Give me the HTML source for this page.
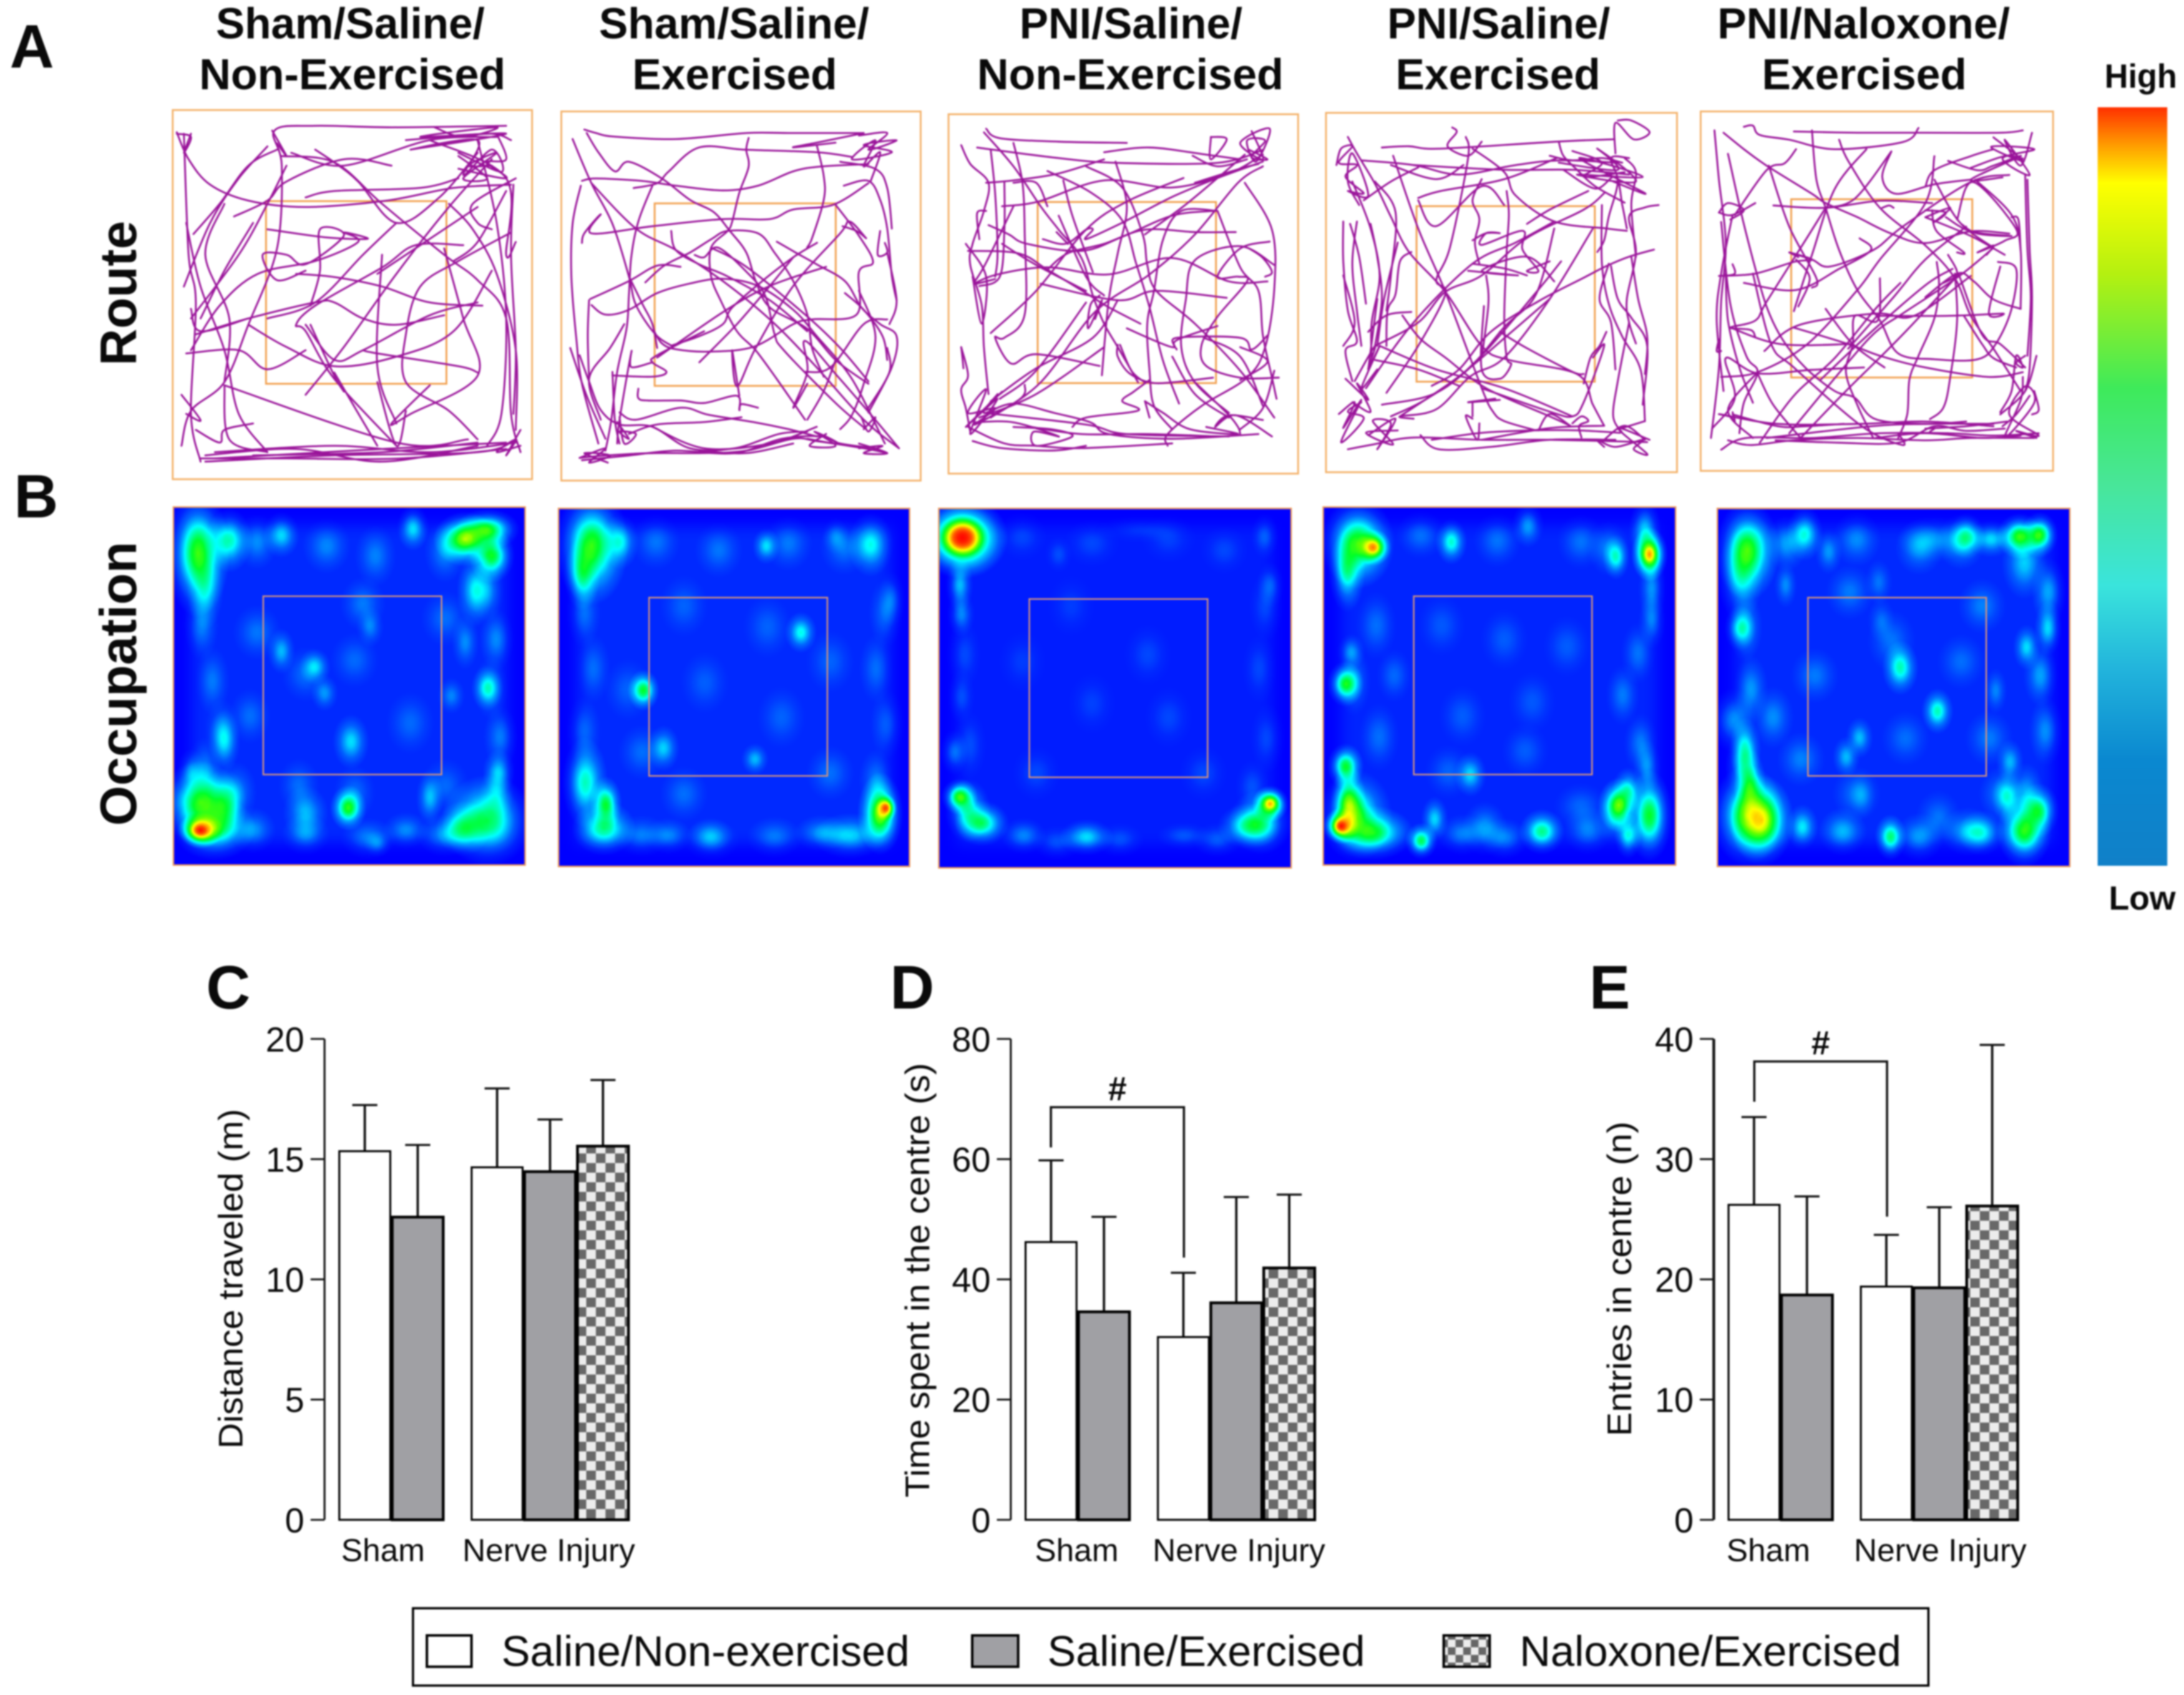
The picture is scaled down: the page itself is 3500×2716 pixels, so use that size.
<!DOCTYPE html>
<html lang="en">
<head>
<meta charset="utf-8">
<title>Open field route, occupation and behaviour charts</title>
<style>
html,body{margin:0;padding:0;background:#fff;width:3500px;height:2716px;overflow:hidden}
svg{display:block;filter:blur(1.2px)}
text{font-family:"Liberation Sans",Arial,sans-serif;fill:#0a0a0a}
.head{font-weight:700;font-size:31px}
.letter{font-weight:700;font-size:44px}
.row{font-weight:700;font-size:37px}
.scale{font-weight:700;font-size:24px}
.leg{font-size:30.7px}
</style>
</head>
<body>
<svg id="root" xmlns="http://www.w3.org/2000/svg" width="3500" height="2716" viewBox="0 0 1568 1216.77">
<defs>
<radialGradient id="blob">
<stop offset="0" stop-color="#000" stop-opacity="1"/>
<stop offset=".2" stop-color="#000" stop-opacity=".88"/>
<stop offset=".4" stop-color="#000" stop-opacity=".607"/>
<stop offset=".6" stop-color="#000" stop-opacity=".325"/>
<stop offset=".8" stop-color="#000" stop-opacity=".135"/>
<stop offset="1" stop-color="#000" stop-opacity="0"/>
</radialGradient>
<filter id="soft" x="-10%" y="-10%" width="120%" height="120%"><feGaussianBlur stdDeviation="5"/></filter>
<pattern id="checker" width="13.8" height="13.8" patternUnits="userSpaceOnUse">
<rect width="13.8" height="13.8" fill="#ececec"/>
<rect width="6.9" height="6.9" fill="#686868"/>
<rect x="6.9" y="6.9" width="6.9" height="6.9" fill="#686868"/>
</pattern>
<pattern id="checker-small" width="11" height="11" patternUnits="userSpaceOnUse">
<rect width="11" height="11" fill="#ececec"/>
<rect width="5.5" height="5.5" fill="#666"/>
<rect x="5.5" y="5.5" width="5.5" height="5.5" fill="#666"/>
</pattern>
<linearGradient id="scale-gradient" x1="0" y1="0" x2="0" y2="1">
<stop offset="0" stop-color="#ff3000"/>
<stop offset=".05" stop-color="#ff9c00"/>
<stop offset=".1" stop-color="#ffff00"/>
<stop offset=".22" stop-color="#b4f010"/>
<stop offset=".37" stop-color="#3eea5a"/>
<stop offset=".5" stop-color="#48e69a"/>
<stop offset=".63" stop-color="#3ae4dc"/>
<stop offset=".74" stop-color="#22b4dc"/>
<stop offset=".86" stop-color="#0a88d0"/>
<stop offset="1" stop-color="#1080c8"/>
</linearGradient>
</defs>
<rect width="1568" height="1216.77" fill="#fff"/>

<text class="letter" x="7" y="48.5">A</text>
<text class="letter" x="10" y="371.5">B</text>
<text class="letter" x="148" y="724">C</text>
<text class="letter" x="639" y="724">D</text>
<text class="letter" x="1141" y="724">E</text>

<text class="head" x="155" y="27.5" textLength="193" lengthAdjust="spacingAndGlyphs">Sham/Saline/</text>
<text class="head" x="143" y="64" textLength="220" lengthAdjust="spacingAndGlyphs">Non-Exercised</text>
<text class="head" x="430" y="27.5" textLength="194" lengthAdjust="spacingAndGlyphs">Sham/Saline/</text>
<text class="head" x="454" y="64" textLength="147" lengthAdjust="spacingAndGlyphs">Exercised</text>
<text class="head" x="732" y="27.5" textLength="160" lengthAdjust="spacingAndGlyphs">PNI/Saline/</text>
<text class="head" x="701.5" y="64" textLength="220" lengthAdjust="spacingAndGlyphs">Non-Exercised</text>
<text class="head" x="996" y="27.5" textLength="160" lengthAdjust="spacingAndGlyphs">PNI/Saline/</text>
<text class="head" x="1002" y="64" textLength="147" lengthAdjust="spacingAndGlyphs">Exercised</text>
<text class="head" x="1233" y="27.5" textLength="210" lengthAdjust="spacingAndGlyphs">PNI/Naloxone/</text>
<text class="head" x="1265" y="64" textLength="147" lengthAdjust="spacingAndGlyphs">Exercised</text>

<text class="row" transform="translate(97.7,262.5) rotate(-90)" textLength="104" lengthAdjust="spacingAndGlyphs">Route</text>
<text class="row" transform="translate(97.7,592.8) rotate(-90)" textLength="204" lengthAdjust="spacingAndGlyphs">Occupation</text>

<g id="routes"></g>
<g id="heatmaps"></g>

<rect x="1506" y="77" width="50" height="544.5" fill="url(#scale-gradient)"/>
<text class="scale" x="1511" y="63" textLength="52" lengthAdjust="spacingAndGlyphs">High</text>
<text class="scale" x="1514" y="653" textLength="48" lengthAdjust="spacingAndGlyphs">Low</text>

<g id="charts"></g>

<g>
<rect x="296.5" y="1154.5" width="1088" height="55.5" fill="#fff" stroke="#000" stroke-width="1.6"/>
<rect x="306.5" y="1174" width="32" height="22.5" fill="#fff" stroke="#000" stroke-width="1.8"/>
<text class="leg" x="360" y="1196" textLength="293" lengthAdjust="spacingAndGlyphs">Saline/Non-exercised</text>
<rect x="698" y="1174" width="33" height="22.5" fill="#a0a0a4" stroke="#000" stroke-width="1.8"/>
<text class="leg" x="752" y="1196" textLength="228" lengthAdjust="spacingAndGlyphs">Saline/Exercised</text>
<rect x="1036.5" y="1174" width="33" height="22.5" fill="url(#checker-small)" stroke="#000" stroke-width="1.8"/>
<text class="leg" x="1091" y="1196" textLength="274" lengthAdjust="spacingAndGlyphs">Naloxone/Exercised</text>
</g>
</svg>

<script>
/* ---------- bar chart data ---------- */
const groupLabels = ["Sham", "Nerve Injury"];
const chartCTicks = [0, 5, 10, 15, 20];
const chartCMeans = [15.33, 12.59, 14.66, 14.48, 15.54];
const chartCErrorTops = [17.25, 15.59, 17.94, 16.65, 18.29];
const chartDTicks = [0, 20, 40, 60, 80];
const chartDMeans = [46.2, 34.6, 30.4, 36.1, 41.9];
const chartDErrorTops = [59.8, 50.4, 41.1, 53.7, 54.1];
const chartETicks = [0, 10, 20, 30, 40];
const chartEMeans = [26.2, 18.7, 19.4, 19.3, 26.1];
const chartEErrorTops = [33.5, 26.9, 23.7, 26.0, 39.5];
const barTreatments = ["white", "gray", "white", "gray", "checker"];

/* ---------- route traces (zoom-crop units 0..1568) ---------- */
const routeSham1 = [
[370,415,395,500,440,580,520,630,640,650,810,630,950,590,1070,580],[385,420,395,800,410,950,400,1300,420,1450],[380,1400,400,1290,470,1200,520,1020,580,780,590,520,575,410,660,395,820,400,1060,395],[470,1210,480,1380,560,1420],[405,735,460,640,520,520,580,470],[610,480,720,520,900,440,1040,430],[590,490,700,510,800,640,930,800,1000,880,1060,1000,1070,1300,1090,1420],[660,470,700,510,750,570,830,700,920,620,1000,480],[490,680,560,630,600,570,720,500,820,520],[560,720,680,745,770,750,720,730,750,760,660,820,540,860,460,960,400,1100],[970,770,870,770,800,840,660,960,620,1020,640,1040,700,1190,830,1400],[800,800,790,1150,830,1330],[640,1020,700,1130,760,1100,900,990,1000,950],[620,860,700,870,800,900,900,950,1010,960],[410,1050,520,1000,660,950,700,950,760,1000,830,1020,930,990],[520,1020,600,1090,700,1150,830,1120,950,1040,1030,850],[390,1110,500,1100,560,1160,640,1100],[470,1210,830,1390,980,1380],[1070,730,960,820,880,900,850,1050,850,1200,940,1290,1000,1380],[940,640,990,720,1040,860,1080,1100,1080,1350],[1080,560,990,640,1000,700,1030,720],[930,780,970,1000,1000,1180,860,1300,820,1330,900,1210],[720,1230,700,1180,650,1020],[760,1100,790,1110,960,1150,1000,1170],[640,850,580,880,550,800,600,800,640,830,720,740,670,720,670,850,650,960],[410,1350,460,1390,470,1350,530,1330],[430,1450,700,1430,1000,1420,1080,1380],[420,1440,600,1440,840,1440,1060,1410],[450,1440,800,1410,1060,1390],[530,1430,800,1420,1000,1390],[1090,1350,1060,1430,1080,1380,1040,1420,1090,1400],[910,400,970,430,1040,400,880,430,1060,420,860,470,1000,440,970,550,1030,470,1050,540,960,480],[1040,420,1060,500,1020,510,1060,560,960,530],[520,1000,420,1040,400,970],[570,410,600,490,580,450],[380,1240,420,1320,390,1300],[900,440,1060,560,1060,800,1080,760],[1030,500,940,650,830,860,720,1090,640,1240],[1000,650,870,780,790,860],[850,1290,830,1400,790,1200],[700,1170,790,1400],
[1075,580,1070,800,1080,1100,1075,1300],[1000,440,1040,700,1060,1000,1050,1300,1020,1400],[390,700,420,900,470,1100,500,1300,560,1420],[385,900,440,700,500,560,560,460],[400,1000,500,800,560,640,600,520],[420,1000,470,850,530,700],[470,640,430,800,480,1000,470,1200],[450,1420,700,1400,900,1420,1080,1390],[430,1430,620,1410,800,1450,1000,1400],[850,440,930,430,1030,420,1070,440],[960,490,1020,560,970,560,1040,480,980,520,1030,520],[370,420,400,430,385,480,400,420],[560,1000,660,950,760,800,830,700],[640,620,700,600,880,590,960,560],[1060,600,1000,760,950,820]
];
const routeSham2 = [
[60,125,140,310,230,480,300,700,330,820,410,940,480,990],[110,85,160,100,240,115,500,125,800,100,980,100,1300,100],[120,100,170,180,240,260,300,220,440,290,560,380,660,430,730,510,800,600,840,720,900,830,1060,920,1180,1050,1320,1150],[100,300,160,290,350,300,500,320,700,340,850,320,1000,260,1120,240,1320,230],[320,330,420,310,470,260,600,160,800,170,1100,180,1250,200],[400,320,340,470,310,620,300,780,290,920,250,1100,225,1300,200,1430],[100,560,110,520,180,440,140,520,400,490,700,460,900,460,1000,420,1170,400,1320,310],[140,310,330,500,500,590,700,720,900,880,1080,1060,1300,1300,1450,1420],[95,320,60,480,55,700,75,950,100,1150,170,1400],[370,725,450,655,560,600,650,545,720,510,850,520,920,600,1000,720,1060,860,1080,1000,1130,1120],[135,795,300,720,420,655,520,660],[140,820,200,860,300,840,420,770,560,730,700,710,850,740,1000,840,1100,950,1250,1130,1390,1400],[480,510,500,590,600,650,720,700,900,800,1060,930],[580,610,620,620,680,580,800,680,880,780,920,940,960,1010,1180,1230,1310,1340],[930,555,1010,600,1100,650,1220,720,1290,830,1370,900,1440,950,1420,1080,1320,1270],[1440,800,1420,700,1400,500,1370,380,1320,300,1215,320],[1220,770,1300,840,1380,950,1400,1050],[405,925,440,980,500,1005,640,1015,830,995,1000,900,1080,880,1270,860,1280,680,1340,640,1280,530,1180,400],[1100,150,1130,280,1130,380,1080,540,1060,580,1100,560,1000,620,880,710,740,830,700,900,600,950,480,990],[810,120,800,170,810,240,770,350,740,470,720,510,650,580,650,700,690,800,760,930,840,1010,930,1130,1050,1300],[400,1060,310,1080,310,1020,260,1300,250,1400],[230,1115,400,1120,460,1100,400,1060,420,1030,620,930],[420,1040,700,850,900,740,1140,660],[340,1170,340,1210,380,1220,520,1220,620,1230,760,1200,770,1260,780,1235,850,1250],[770,1200,740,1010,760,1160,840,1000,1000,740,1200,520,1240,470,1310,540],[90,1030,130,1140,180,1260,260,1320,400,1330,560,1420,750,1420,940,1360,1060,1350],[90,1460,200,1450,400,1440,600,1440,800,1430,1000,1380,1100,1390,1300,1420,1400,1440],[100,1470,300,1450,500,1430,750,1440,950,1380,1120,1370,1200,1400,1350,1420],[260,1270,330,1300,520,1250,640,1280,830,1310,980,1340,1100,1370],[300,1360,420,1320,620,1310,780,1290],[1450,1420,1340,1290,1190,1120,1050,970,1060,1100,1000,1250,1060,1150],[130,800,125,950,130,1130],[1280,110,1400,100,1320,170,1440,130,1300,150,1420,180,1250,210,1350,130,1300,240,1370,180,1330,300],[90,1460,200,1420,130,1480,220,1450,110,1440,210,1480],[250,1310,300,1380,260,1350,330,1360,280,1400,260,1290],[1060,1380,1190,1400,1090,1350,1180,1410,1070,1410,1140,1360],[1280,1420,1380,1410,1300,1440,1400,1440,1280,1400],[1300,1340,1350,1290,1320,1350,1290,1290],[1210,490,1270,510,1310,540],[1370,510,1360,610,1400,600,1390,560],
[1300,100,1100,140,1000,160,1180,140],[1200,220,1350,250,1400,330,1420,500],[1400,600,1440,800,1410,900],[50,1000,120,1200,200,1380],[180,1300,130,1130,220,1000,280,900],[230,1100,240,1300,260,1400],[1320,1250,1410,1100,1400,1000],[1180,1050,1130,1180,1060,1300],[600,1430,800,1440,1000,1400],[400,1330,620,1420,900,1400,1100,1330],[300,700,360,820,400,900,420,1000],[650,580,800,660,1050,860,1200,1000,1320,1140],[1000,620,900,740,760,900,600,1060],[1280,760,1350,950,1300,1150,1250,1280,1200,1340],[1050,1100,1160,1080,1300,900,1400,880]
];
const routePni3 = [
[180,70,240,110,500,125,800,130],[140,150,500,195,750,215,1200,215,1400,160],[70,140,110,220,190,300,170,420,120,560,110,650,160,820,170,1000,190,1200],[170,85,300,230,420,400,500,500,600,620,650,780,700,900,760,1000,850,1150],[300,130,340,300,350,520,350,860,260,960,220,960,290,1070,400,1030,680,1080],[250,400,410,380,700,290,1000,320,1250,260,1400,180],[1090,185,1200,230,1330,200],[450,250,640,340,780,460,840,640,900,830,960,1060,1030,1240],[620,230,780,320,870,520,890,650,930,760,1100,900,1300,1100,1450,1300],[750,210,800,400,760,600,720,800,690,1120],[100,590,320,600,450,670,620,770,720,830,860,900],[420,730,760,800,930,760,1240,790],[220,710,130,730,230,690,450,660,720,690,1000,620,1250,720,1420,720],[450,670,540,600,700,560,880,500,1100,510,1280,510],[430,540,530,560,620,500,650,500,620,540,780,470,1000,360,1200,280,1400,210],[200,940,400,760,620,500,800,380,1050,280],[190,480,280,520,360,560,600,590,780,530,1000,440,1180,420],[1200,420,1040,420,960,540,920,760,890,900,900,1100,920,1250,1000,1350],[1450,650,1300,570,1100,630,1060,800,1040,1000,1100,1150,1250,1280],[1430,550,1300,580,1200,700,1290,700,1330,720,1200,870,1130,990,1150,1080,1300,1130,1470,1130],[1200,420,1300,660,1380,760,1400,950,1440,1130,1460,1220],[1320,300,1440,500,1450,750,1410,1000,1330,1130,1130,1250,980,1370,980,1420],[1400,230,1290,300,1100,520,900,690,660,850,420,1150,200,1300],[680,780,640,820,630,920,690,800,660,880],[620,810,400,1100,240,1220],[900,1140,830,1190,780,1230,850,1270,620,1300,560,1340],[880,1230,900,1300],[760,990,760,1040,810,1110,900,1150,1000,1150,1180,1130],[770,990,820,1100,880,1150],[800,920,1000,1000,1020,960,1300,960,1350,1010,1420,950],[1200,910,1020,970,1020,1010],[70,1000,100,1120,70,1180,90,1260,110,1360],[230,1200,170,1280,300,1240,480,1280,640,1320,720,1370,1000,1390,1380,1370],[100,1340,260,1410,400,1420,600,1430,1000,1410],[130,1320,300,1320,500,1380,390,1360,400,1420,560,1380,470,1350,300,1340],[170,1280,620,1330,800,1370,1250,1380],[350,1160,330,1220,130,1330,220,1260,100,1280,180,1180,110,1370,230,1220,90,1340,250,1190],[1440,1380,1280,1290,1190,1340,1250,1290,1400,1310],[1150,1340,1290,1370,1080,1350,960,1280,880,1230],[1350,80,1400,200,1300,130,1430,70,1370,210,1330,120,1410,120,1350,190,1420,200,1340,160],[1170,110,1170,200,1240,115,1170,105],[150,540,140,430,180,420],[70,1000,80,1090],[490,510,540,560,520,540],[1090,1140,1240,1280,1290,1340,1300,1370],[1300,1140,1420,1060,1300,1000],
[200,160,220,350,230,600,220,700],[260,300,260,500,240,700,150,740],[300,400,180,640,130,720],[1300,200,1150,180,900,150,700,170],[1100,300,1300,240,1380,220],[700,200,500,260,300,290,180,300],[450,400,400,300,300,300],[520,290,560,440,650,680],[1340,580,1400,620,1440,680,1410,700],[1450,1100,1400,1260,1300,1350],[150,1300,400,1200,700,1000],[200,1230,400,1090,650,960,760,800],[380,1340,600,1370,900,1370,1200,1380],[120,1400,250,1430,480,1440,620,1420],[1250,1300,1100,1200,1000,1040],[500,440,620,700,700,780],[250,560,400,650,620,760],[1320,180,1200,280,1050,400,880,520],[1140,960,1300,1040,1400,1250],[90,560,180,700,160,900,120,700]
];
const routePni4 = [
[110,110,150,180,230,310,300,450,380,600,540,770,700,1000,820,1060,1120,1120,1190,1250,1240,1340],[260,155,380,150,520,160,1030,130,1280,120],[170,210,400,230,600,270,850,230,1050,210,1300,220],[400,230,800,250,1100,250,1350,270],[310,190,420,500,540,770,700,1180,750,1280,800,1320,940,1360],[630,110,640,200,560,580,500,720,540,780,420,1000,280,1200],[570,70,590,90,550,150,640,190,700,130],[660,160,800,260,850,360,1020,470,1250,500,1340,510],[1040,130,1060,190,1120,250,1200,320,1330,390],[130,300,210,500,250,700,215,900,215,1050],[90,470,90,640,110,850,150,980,100,1020,130,1150],[150,470,130,650,150,850,170,1000],[210,480,240,620,260,800,230,1000],[390,600,340,640,320,780,285,850,280,1000],[200,940,280,870,390,855],[350,870,430,970,540,1050,720,1180,1000,1300,1090,1340],[230,1000,420,900,540,770,700,700,900,540,1150,420,1240,350],[190,1180,400,900,660,650,850,560,1020,470],[700,290,660,380,690,460,670,560,690,650],[810,340,820,440,810,600,800,880,810,1050,830,1080,780,1140,700,1100,710,830],[1020,725,900,620,700,680,860,700,640,680],[660,550,720,520,780,520,720,520,700,570,880,510,880,590,950,680,900,680,1000,640],[420,380,500,490,700,320,800,400],[420,370,520,340,800,290,1030,200],[780,940,900,1010,1100,1110,1150,1120],[1020,500,940,780,800,920,640,1100,450,1230,300,1300],[700,1180,1000,1280,1100,1300,1150,1240,1240,1000,1190,1050],[1150,1160,1180,1050,1220,1000,1250,940],[1460,590,1350,620,1250,660,1150,710,950,810,740,940,600,1100,480,1170],[1480,400,1420,410,1350,450,1380,600,1340,800,1350,900,1380,990],[1230,400,1230,650,1260,820,1320,960,1400,1100,1420,1320],[1270,660,1300,800,1360,880,1430,1000,1410,1250],[1350,900,1300,1150,1280,1300,1320,1370],[1210,600,1240,550,1260,450,1300,300,1270,200,1350,200],[1300,40,1360,40,1440,90,1370,120,1290,50,1290,180],[1040,220,1300,250,1210,160,1380,300,1120,270,1410,280,1130,200,1420,350,1280,300],[60,230,80,160,130,150,70,220,150,230,100,280,180,350,110,340,200,360,130,180,110,300,160,400],[140,1150,230,1000,200,1100,250,1000,170,1180,240,1100],[100,1140,200,1230,150,1160,210,1280,130,1240],[70,1290,140,1240,90,1350,170,1230,80,1410,180,1310,110,1280,170,1240],[200,1380,320,1310,240,1440,300,1330,220,1320,310,1420,190,1370,330,1360],[110,1440,220,1420,400,1390,700,1400,1000,1400,1430,1410],[430,1380,510,1440,740,1430,1000,1400,1290,1400],[480,1400,700,1370,920,1360,1130,1360,1310,1370],[1440,1400,1300,1350,1430,1460,1370,1440,1410,1400,1290,1430,1210,1400,1240,1430],[690,1330,680,1400,630,1300,660,1310],[780,1230,640,1240,760,1225],[1100,1330,1140,1300,1170,1320,1130,1340,1140,1390],[1320,1350,1420,1320],[1090,1340,1000,1290,950,1360],[660,1240,660,1300],[400,1310,340,1300,500,1270,650,1130,800,1050,1000,800,1190,500],
[1000,190,1100,210,1230,200,1320,220],[1100,170,1230,220,1150,280,1330,260],[300,230,500,290,620,230],[90,700,140,900,90,1000],[240,800,220,950,200,1100],[330,560,270,800,240,1000],[120,480,160,620,190,820],[250,1000,500,1100,800,1180,1100,1300],[230,1060,420,1100,600,1170],[260,1250,500,1200,700,1040,950,760,1050,640],[340,1300,600,1130,820,950,1000,800],[1240,1400,1330,1340,1420,1400],[700,1400,1000,1350,1240,1340],[1360,620,1390,800,1430,960,1420,1120],[1290,1100,1270,900,1220,800,1260,650],[900,480,1000,420,1170,340],[1060,250,1200,330,1290,280,1320,400,1340,500],[660,650,800,670,900,700],[720,700,730,820,700,1050],[230,300,320,430,300,700,280,850],[180,380,300,300,420,240],[1330,200,1380,260,1360,400,1380,620]
];
const routePni5 = [
[200,75,240,70,270,110,400,130,600,170,900,140,970,80],[420,95,700,100,1000,100,1330,100,1430,90],[110,100,200,170,300,240,500,360,560,400,700,460,850,530,1000,570,1200,520,1370,530],[70,90,90,300,120,570,100,820,90,1100,55,1400],[130,190,190,450,240,640,300,840,370,980,470,1100,600,1200,690,1230,780,1320,1000,1340,1180,1330],[500,90,520,300,560,420,620,600,700,770,800,900,880,1040,1040,1065,1230,1065,1310,1000,1380,850,1400,680,1320,650],[620,130,660,220,800,420,1000,580,1130,720,1200,880,1300,1020,1420,1200],[850,180,810,290,870,360,1040,320,1200,300],[430,170,380,230,300,260,160,450],[250,400,150,450,90,440],[330,410,560,420,800,390,1030,400],[560,420,470,560,300,820,250,900,140,930,230,940,250,970],[1040,200,1000,400,800,640,700,770,480,1000,260,1120,100,1140],[850,180,690,380,560,420],[740,170,600,340,500,620,420,860],[1370,280,1200,310,900,500,770,600,580,670,500,640,400,610,500,640,420,650,250,700,90,710],[710,550,760,600,620,680,430,770,200,740],[1300,590,1150,710,900,870,780,950,640,1100,400,1380],[1200,710,950,880,780,870,440,920,290,1030],[890,740,780,850,600,1060,420,1220,270,1420],[800,720,790,900,690,880,680,1000,650,1120,700,1260,770,1400],[1050,650,1060,750,1040,890,970,1050,930,1150,920,1300,880,1400],[1130,700,1140,900,1110,1140,1080,1270,1020,1320],[1150,710,1250,960,1330,1000,1440,1100],[1330,670,1280,870,1340,870,1100,880,800,880],[420,930,660,1000,800,1050,1000,1100,1280,1140,1430,1120],[730,1100,500,1110,260,1125,120,1060,160,1230,60,1360],[260,1125,330,1260,450,1400],[240,700,320,1000,420,1100,720,1350,900,1430,880,1380],[100,480,140,830,210,1050,260,1120,200,1250,180,1380],[150,660,160,700,110,710],[140,930,360,1000,670,1000],[90,980,80,1030,100,1030],[150,1290,160,1330,140,1310,100,1300,350,1340,700,1340,1000,1330,1300,1350],[100,1450,210,1400,500,1400,800,1380,1100,1380,1300,1390,1500,1380],[130,1410,230,1430,420,1410,700,1400,1000,1410,1200,1400,1480,1400],[340,1410,620,1420,880,1420,1040,1350,1180,1370,1350,1360],[1430,1140,1420,1240,1350,1400,1480,1250,1440,1180,1370,1300,1500,1390,1400,1370,1490,1400],[1100,1380,1020,1380,1040,1360],[1300,1340,1000,1340,760,1350,300,1400],[1450,300,1460,600,1470,800,1460,1100,1440,1200],[1440,280,1450,600,1465,800,1450,1050],[1300,120,1430,220,1290,160,1480,170,1340,210,1460,280,1350,130,1420,240,1470,100],[1100,220,1230,260,1300,240,1420,200,1200,300,1340,290],[1000,460,1110,420,1040,480,1090,440,1000,430],[1090,460,1200,520,1380,540,1230,530,1160,490],[1270,620,1300,580,1230,610,1350,560,1400,510,1210,310,1140,470],[1420,600,1410,470,1380,460],[90,440,130,400,200,430,140,470],[1480,1200,1500,1280,1470,1300],[810,420,840,410,860,420],[400,610,440,630],[1100,620,1140,700,1080,740],[1140,610,1170,610,1050,520,1030,430],[1420,850,1300,810,1210,730,1140,700,1000,800],[1440,1050,1400,1080,1430,1100,1400,1050,1380,1200,1330,1290],
[120,700,130,900,180,1100,240,1250],[150,450,100,700,80,900,110,1200],[1300,170,1200,200,1040,260,1000,330],[1200,250,1350,200,1430,210],[1220,300,1380,450,1420,600,1420,850],[1040,300,1150,480,1300,590],[1000,460,1200,540,1350,620],[1170,880,1250,1000,1300,1060,1400,1100],[450,1400,650,1200,900,960,1150,700],[540,1150,760,950,1000,750,1120,680],[660,1020,860,800,1000,640,1180,500],[560,850,680,1000,820,1100],[150,1300,350,1350,470,1350,640,1340],[1000,1360,1180,1350,1360,1330],[1340,1350,1400,1300,1460,1220],[1330,1300,1440,1200,1490,1050],[780,1400,1000,1380,1250,1400,1420,1390],[310,240,400,500,520,720,500,760],[430,640,490,720,440,840],[260,1120,130,1280,240,1400]
];

/* ---------- occupation hot spots: centre x, centre y, spread x, spread y, intensity ---------- */
const heatSham1 = [
[142,397,7,14,.64],[164.5,388,5,7,.42],[202,384,4,5,.3],[296.5,379,3.5,5,.33],[334,387,7,6,.72],[350,380,7,4.5,.6],[353,399,5,6,.58],[341,424,4,8,.33],[147.4,422.7,4,9,.25],[144,576,9,9,.62],[144,596,5,4,1],[154,594.6,9,7,.5],[161,578,5,8,.38],[250,580,4,5,.6],[350,589,10,10,.52],[332.5,594.6,6,6,.4],[308.5,572.6,3,6,.25],[161,532,3.5,7,.28],[252,532.4,4,6,.3],[358,554,3.5,5,.28],[349.7,494,3.5,5,.33],[226,478.5,3.5,4,.27],[202,467.5,3,5,.25],[233,497.6,3,4,.2],[265.7,450,3,4.5,.17],[260.5,433.6,5,6,.15],[324,499.5,3,4,.17],[334,461,3,6,.18],[219.4,583.6,5,6,.25],[291.4,596,5,4,.18],[271,605.6,3,3,.15],[137,554,3,5,.2],[181.7,596,5,5,.2]
];
const heatSham2 = [
[425,391.6,8,13,.62],[418,412,4,8,.4],[445.6,389,4,6,.3],[462,495.5,3.5,4.5,.55],[435,577,3.5,6,.55],[433.6,594.6,7,6,.47],[420,561.7,5,10,.42],[476.5,537,3.5,5,.28],[575,454,3.5,4.5,.36],[550,392,3,4,.3],[632,584,5,9,.72],[636,580,2.5,3,.9],[625,391,5,7,.36],[610,600,8,5,.3],[542,545,3,3.5,.25],[510,600,5,4,.18],[480,600,5,4,.18],[590,598,6,4,.2],[640,430,3,6,.15],[600,385,3,4,.15]
];
const heatPni3 = [
[691,386,10,9,.95],[691,386,5,4.5,.9],[689,420,3,6,.3],[690,441,3,5,.22],[689,572,4,4,.62],[705,591,6,5,.5],[695,582,5,7,.38],[912,577,4,4,.85],[897,593,7,5,.4],[905,590,7,7,.4],[780,601,6,4,.33],[735,600,5,4,.2],[760,398,3,4,.1],[908,385,3,5,.15],[912,420,3,5,.15],[690,500,3,6,.12],[685,540,3,5,.2],[820,380,10,3,.08],[850,600,6,3,.12]
];
const heatPni4 = [
[975,390,8,10,.62],[986,393,4,4,.85],[967,410,4,9,.42],[1042,389,3.5,5,.4],[1097,377,3.5,5,.25],[1160.3,400,3,5,.36],[1184.3,398,4,6,.88],[1181,380.6,3.5,7,.32],[1186,422.7,3,8,.22],[1186,446,3,6,.18],[966,491,4,5,.58],[966,550,4,5,.58],[968,578,4,9,.6],[963,593,4,4,1],[985.5,598,9,6,.55],[973.5,585.4,8,10,.42],[1020.4,603.7,3.5,4,.55],[1030,588,3,5,.3],[1107,597,5,5,.48],[1066,594.6,5,6,.22],[1055.8,556,3.5,5,.3],[1162,578,4.5,6,.68],[1169,567,3.5,5,.35],[1184.3,585.4,5,10,.58],[1169,600,3,5,.38],[1182.6,550.7,3,6,.2],[970,468,3,4,.22],[1001,485,4,6,.13]
];
const heatPni5 = [
[1254.6,395,7,11,.62],[1249.4,413.5,5,10,.3],[1295.7,383,4,6,.38],[1312.9,396,3,5,.2],[1412,385,4,5,.36],[1450,385,5,5,.62],[1464.4,384,4,5,.62],[1429.4,387,5,4,.3],[1453.4,404,5,8,.28],[1388.3,387,8,5,.18],[1249.4,451,3.5,5,.32],[1470.5,451,3,6,.32],[1455,464.7,3,5,.3],[1364.3,479.4,4,6,.42],[1391,510.5,3.5,5,.42],[1335,529.6,3,4.5,.26],[1325.5,543.4,3,4.5,.25],[1348.8,418,3,5,.14],[1282,420,2.5,5,.18],[1350.6,445.5,3,5,.12],[1432.8,496,2.5,5,.17],[1443,547,3,5,.25],[1244.3,517,5,7,.24],[1252.9,538,3.5,7,.38],[1254.6,585.4,8,11,.6],[1264.9,589,7,10,.72],[1256.3,563.5,3.5,8,.45],[1294,593.7,3.5,5,.32],[1357.4,601,3.5,5,.5],[1453.4,596.4,6,8,.62],[1463.7,581.8,4.5,6,.5],[1422.5,598,5,5,.3],[1441.4,572.6,3.5,6,.28],[1391.7,587,5,6,.14],[1336.8,571,3,5,.12]
];
/* faint mottling of the walked track: offset x, offset y inside the panel, spread x, spread y, intensity */
const faintSham1 = [[60,25,6,8,.18],[110,28,7,8,.17],[145,35,6,9,.16],[195,32,6,9,.18],[225,60,5,9,.2],[232,95,5,9,.18],[228,130,5,9,.15],[235,165,5,9,.17],[232,205,5,8,.2],[20,85,5,10,.17],[28,125,5,10,.15],[35,160,5,9,.14],[22,190,5,10,.18],[45,205,6,9,.18],[95,235,7,6,.2],[140,238,8,6,.18],[195,236,8,6,.2],[90,200,6,8,.13],[130,110,7,8,.12],[170,155,7,9,.12],[95,120,7,8,.13],[60,90,7,8,.14],[195,80,7,8,.13],[55,150,6,8,.13],[195,200,7,8,.12],[130,205,6,8,.13]];
const faintSham2 = [[70,24,7,8,.14],[115,30,7,8,.14],[165,25,7,8,.15],[205,28,7,8,.15],[235,75,5,10,.14],[228,115,5,10,.13],[236,155,5,10,.12],[228,195,5,9,.15],[18,75,5,10,.15],[25,115,5,10,.13],[18,160,5,10,.13],[60,235,8,6,.17],[110,238,8,6,.14],[155,236,8,6,.16],[90,70,7,9,.11],[150,85,7,9,.11],[195,110,7,9,.11],[105,125,7,9,.1],[160,150,7,9,.11],[50,130,7,9,.11],[195,190,7,8,.13],[90,205,7,8,.13],[60,175,7,8,.13]];
const faintPni3 = [[60,20,7,7,.09],[110,25,8,7,.09],[165,22,8,7,.08],[205,30,7,7,.09],[235,70,5,10,.1],[230,115,5,10,.09],[236,165,5,10,.1],[225,200,5,8,.11],[18,105,5,10,.1],[22,170,5,10,.1],[85,240,7,5,.13],[130,238,7,5,.12],[200,238,7,5,.14],[95,70,7,9,.07],[150,105,7,9,.09],[110,140,7,9,.08],[165,150,7,9,.09],[190,190,7,8,.09],[70,190,7,8,.09],[60,110,7,9,.07]];
const faintPni4 = [[70,20,7,7,.15],[125,24,7,8,.15],[185,25,7,8,.15],[205,30,6,8,.18],[38,85,6,10,.14],[22,125,5,10,.16],[40,165,6,10,.14],[24,220,6,9,.2],[226,105,5,9,.15],[215,135,5,9,.16],[228,170,5,9,.17],[100,235,7,6,.18],[130,238,7,6,.2],[190,232,7,7,.18],[210,225,6,7,.18],[85,85,7,9,.1],[130,95,7,9,.11],[175,100,7,9,.11],[100,150,7,9,.11],[150,140,7,9,.1],[90,190,7,8,.12],[145,175,7,8,.11],[185,215,8,7,.13]];
const faintPni5 = [[50,25,6,8,.22],[100,22,7,8,.18],[145,28,7,8,.2],[175,24,7,8,.24],[238,60,5,10,.25],[232,120,5,9,.22],[236,160,5,10,.2],[222,205,5,9,.24],[20,85,5,10,.22],[24,130,5,10,.2],[18,185,5,9,.24],[40,150,6,9,.18],[90,232,7,7,.25],[145,236,7,7,.22],[180,232,8,7,.25],[70,120,7,8,.15],[125,95,7,9,.14],[175,110,7,8,.13],[60,180,7,8,.16],[135,165,7,8,.13],[195,165,7,8,.15],[95,60,7,8,.15],[190,70,7,8,.16],[100,205,7,8,.15],[205,205,7,8,.18]];

/* ---------- helpers ---------- */
const SVGNS = "http://www.w3.org/2000/svg";
const PX = 3500 / 1568;
function make(tag, attrs, parent) {
  const el = document.createElementNS(SVGNS, tag);
  for (const k in attrs) el.setAttribute(k, attrs[k]);
  parent.appendChild(el);
  return el;
}
function smoothPath(pts) {
  let d = "M" + pts[0][0].toFixed(1) + " " + pts[0][1].toFixed(1);
  for (let i = 0; i < pts.length - 1; i++) {
    const p0 = pts[Math.max(0, i - 1)], p1 = pts[i], p2 = pts[i + 1], p3 = pts[Math.min(pts.length - 1, i + 2)];
    const c1x = p1[0] + (p2[0] - p0[0]) / 6, c1y = p1[1] + (p2[1] - p0[1]) / 6;
    const c2x = p2[0] - (p3[0] - p1[0]) / 6, c2y = p2[1] - (p3[1] - p1[1]) / 6;
    d += "C" + c1x.toFixed(1) + " " + c1y.toFixed(1) + " " + c2x.toFixed(1) + " " + c2y.toFixed(1) + " " + p2[0].toFixed(1) + " " + p2[1].toFixed(1);
  }
  return d;
}

/* ---------- route panels ---------- */
const routeHost = document.getElementById("routes");
function drawRoute(traces, box, inner, crop, index) {
  const g = make("g", {}, routeHost);
  
  
  const frame = make("rect", {x: box[0], y: box[1], width: box[2] - box[0], height: box[3] - box[1], fill: "#fff", stroke: "#f4b36c", "stroke-width": 1.3}, g);
  
  
  const centre = make("rect", {x: inner[0], y: inner[1], width: inner[2] - inner[0], height: inner[3] - inner[1], fill: "none", stroke: "#f2a252", "stroke-width": 1.3}, g);
  
  
  traces.forEach(function (flat) {
    const pts = [];
    for (let i = 0; i < flat.length; i += 2) {
      pts.push([(crop[0] + flat[i] * crop[2] / 1568) / PX, (crop[1] + flat[i + 1] * crop[3] / 1568) / PX]);
    }
    const line = make("path", {d: smoothPath(pts), fill: "none", stroke: "#9a149a", "stroke-width": 1.3, "stroke-linejoin": "round", "stroke-linecap": "round"}, g);
    
    
  });
}
drawRoute(routeSham1, [124,79,382,344], [191,144.4,320.5,275.5], [0,0,1200,800], 1);
drawRoute(routeSham2, [403,80,661,345], [470,146,600,277], [895,175,590,600], 2);
drawRoute(routePni3, [681,82,932,340], [745,145,873,275], [1515,180,570,590], 3);
drawRoute(routePni4, [952,81,1204,339], [1017,148,1145,274], [2120,178,570,590], 4);
drawRoute(routePni5, [1221,80,1474,338], [1286,143,1416,271], [2722,175,570,590], 5);

/* ---------- occupation panels ---------- */
const heatHost = document.getElementById("heatmaps");
const tableR = "0 0 0 0 0 0 0 .39 1 1 1";
const tableG = "0 .157 .39 .667 1 1 1 1 1 .51 0";
const tableB = "1 1 1 1 1 .59 .157 0 0 0 0";
const SPREAD_GAIN = 1.32;
function drawHeat(spots, faint, box, inner, index, glowLevel) {
  const w = box[2] - box[0], h = box[3] - box[1];
  const g = make("g", {}, heatHost);
  
  
  const defs = make("defs", {}, g);
  const f = make("filter", {id: "heat" + index, filterUnits: "userSpaceOnUse", x: box[0], y: box[1], width: w, height: h, "color-interpolation-filters": "sRGB"}, defs);
  make("feColorMatrix", {type: "matrix", values: "0 0 0 1 0 0 0 0 1 0 0 0 0 1 0 0 0 0 0 1"}, f);
  const ct = make("feComponentTransfer", {}, f);
  make("feFuncR", {type: "table", tableValues: tableR}, ct);
  make("feFuncG", {type: "table", tableValues: tableG}, ct);
  make("feFuncB", {type: "table", tableValues: tableB}, ct);
  const field = make("g", {filter: "url(#heat" + index + ")"}, g);
  
  
  make("rect", {x: box[0], y: box[1], width: w, height: h, fill: "#000", "fill-opacity": 0}, field);
  const glow = make("rect", {x: box[0] + 13, y: box[1] + 13, width: w - 26, height: h - 29, fill: "#000", "fill-opacity": glowLevel, filter: "url(#soft)"}, field);
  
  
  faint.forEach(function (s) {
    const e = make("ellipse", {cx: box[0] + s[0], cy: box[1] + s[1], rx: s[2] * 2.5, ry: s[3] * 2.5, fill: "url(#blob)", "fill-opacity": s[4]}, field);
    
    
  });
  spots.forEach(function (s) {
    const e = make("ellipse", {cx: s[0], cy: s[1], rx: s[2] * 2.5 * SPREAD_GAIN, ry: s[3] * 2.5 * SPREAD_GAIN, fill: "url(#blob)", "fill-opacity": s[4]}, field);
    
    
  });
  const frame = make("rect", {x: box[0], y: box[1], width: w, height: h, fill: "none", stroke: "#ee9a5c", "stroke-width": 1.1}, g);
  
  
  const centre = make("rect", {x: inner[0], y: inner[1], width: inner[2] - inner[0], height: inner[3] - inner[1], fill: "none", stroke: "#d09080", "stroke-width": 1.1}, g);
  
  
}
drawHeat(heatSham1, faintSham1, [124.5,364,377,621], [189,428,317,556], 1, .1);
drawHeat(heatSham2, faintSham2, [401,365,653,622], [466,429,594,557], 2, .1);
drawHeat(heatPni3, faintPni3, [674,365,927,623], [739,430,867,558], 3, .07);
drawHeat(heatPni4, faintPni4, [950,364,1203,621], [1015,428,1143,556], 4, .09);
drawHeat(heatPni5, faintPni5, [1233,365,1486,622], [1298,429,1426,557], 5, .1);

/* ---------- bar charts ---------- */
const chartHost = document.getElementById("charts");
const AXIS_BASE = 1091, AXIS_HEIGHT = 345.2, BAND = 38, BAR_W = 36.6, GROUP_GAP = 19;
function drawChart(cfg) {
  const g = make("g", {}, chartHost);
  
  
  const top = cfg.ticks[cfg.ticks.length - 1];
  const yOf = function (v) { return AXIS_BASE - v / top * AXIS_HEIGHT; };
  const xOf = function (i) { return cfg.axis + 10.6 + i * BAND + (i >= 2 ? GROUP_GAP : 0); };

  const axis = make("line", {x1: cfg.axis, x2: cfg.axis, y1: yOf(top), y2: yOf(0), stroke: "#111", "stroke-width": cfg.axisWidth}, g);
  
  
  cfg.ticks.forEach(function (t) {
    const tick = make("line", {x1: cfg.axis - 10, x2: cfg.axis, y1: yOf(t), y2: yOf(t), stroke: "#111", "stroke-width": 1.3}, g);
    
    
    const label = make("text", {x: cfg.axis - 14.5, y: yOf(t) + 9, "text-anchor": "end", "font-size": 25}, g);
    label.textContent = String(t);
    
    
  });
  const title = make("text", {transform: "translate(" + cfg.titleX + "," + cfg.titleBottom + ") rotate(-90)", "font-size": 24.5, textLength: cfg.titleLength, lengthAdjust: "spacingAndGlyphs"}, g);
  title.textContent = cfg.title;
  
  

  cfg.means.forEach(function (m, i) {
    const x = xOf(i);
    const cx = x + BAR_W / 2;
    const err = make("line", {x1: cx, x2: cx, y1: yOf(m), y2: yOf(cfg.errorTops[i]), stroke: "#111", "stroke-width": 1.7}, g);
    
    
    const cap = make("line", {x1: cx - 9, x2: cx + 9, y1: yOf(cfg.errorTops[i]), y2: yOf(cfg.errorTops[i]), stroke: "#111", "stroke-width": 1.5}, g);
    
    
    const kind = barTreatments[i];
    const fill = kind === "white" ? "#fff" : kind === "gray" ? "#a0a0a4" : "url(#checker)";
    const bar = make("rect", {x: x, y: yOf(m), width: BAR_W, height: yOf(0) - yOf(m), fill: fill, stroke: "#000", "stroke-width": kind === "white" ? 1.4 : 2}, g);
    
    
  });

  groupLabels.forEach(function (name, i) {
    const t = make("text", {x: cfg.labelX[i], y: 1120.6, "text-anchor": "middle", "font-size": 23}, g);
    t.textContent = name;
    
    
  });

  if (cfg.bracket) {
    const b = cfg.bracket;
    const path = make("polyline", {points: b.left + "," + b.leftEnd + " " + b.left + "," + b.top + " " + b.right + "," + b.top + " " + b.right + "," + b.rightEnd, fill: "none", stroke: "#111", "stroke-width": 1.6}, g);
    
    
    const mark = make("text", {x: (b.left + b.right) / 2, y: b.top - 5, "text-anchor": "middle", "font-size": 24, "font-weight": 700}, g);
    mark.textContent = "#";
    
    
  }
}
drawChart({name: "distance-chart", axis: 233, axisWidth: 1.4, ticks: chartCTicks, means: chartCMeans, errorTops: chartCErrorTops,
  title: "Distance traveled (m)", titleX: 174, titleBottom: 1040, titleLength: 244, labelX: [275, 394]});
drawChart({name: "centre-time-chart", axis: 725.7, axisWidth: 1.4, ticks: chartDTicks, means: chartDMeans, errorTops: chartDErrorTops,
  title: "Time spent in the centre (s)", titleX: 667, titleBottom: 1075, titleLength: 312, labelX: [773, 889.5],
  bracket: {left: 754.5, right: 850, top: 794.8, leftEnd: 823.7, rightEnd: 902.8}});
drawChart({name: "centre-entries-chart", axis: 1230.4, axisWidth: 2, ticks: chartETicks, means: chartEMeans, errorTops: chartEErrorTops,
  title: "Entries in centre (n)", titleX: 1171, titleBottom: 1031, titleLength: 226, labelX: [1269.6, 1393],
  bracket: {left: 1259.5, right: 1354.8, top: 762, leftEnd: 790.9, rightEnd: 873.4}});
</script>
</body>
</html>
